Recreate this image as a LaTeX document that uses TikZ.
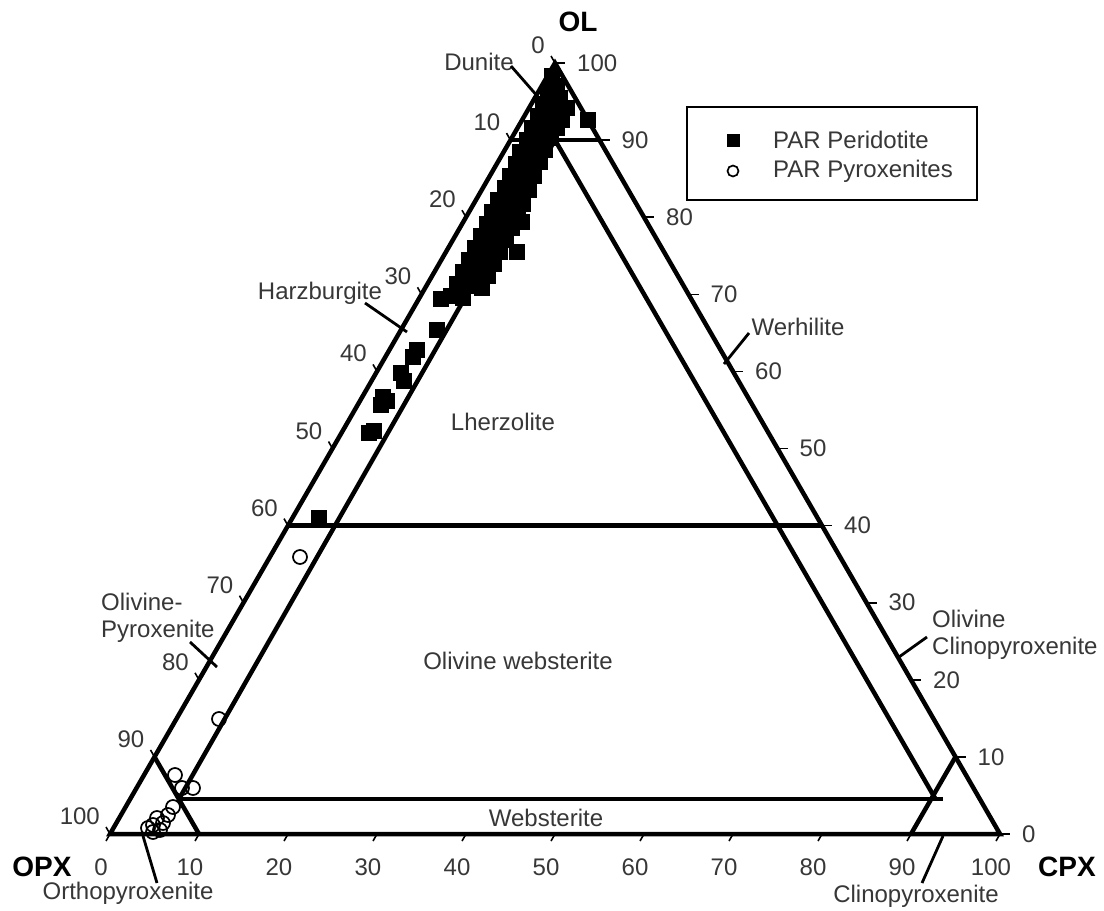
\documentclass[tikz,border=0pt]{standalone}
\usepackage{fontspec}
\setmainfont{Liberation Sans}
\definecolor{txt}{RGB}{55,55,55}
\tikzset{
  edgeline/.style={line width=4.5pt, line join=miter},
  tickline/.style={line width=1.6pt},
  leader/.style={line width=2.8pt},
  lbl/.style={text=txt, font=\fontsize{24}{27}\selectfont, inner sep=0pt},
  axlbl/.style={text=black, font=\fontsize{28}{30}\selectfont\bfseries, inner sep=0pt},
  sq/.style={rectangle, fill=black, minimum size=16pt, inner sep=0pt},
  ci/.style={circle, draw=black, line width=1.7pt, minimum size=14pt, inner sep=0pt},
}
\begin{document}
\begin{tikzpicture}[x=1pt,y=-1pt]
\useasboundingbox[fill=white] (0,0) rectangle (1104,911);
% vertices
\coordinate (OPXv) at (110,834);
\coordinate (CPXv) at (1000,834);
\coordinate (OLv) at (555,63);
\coordinate (T) at (555,140);
\coordinate (d1) at (510.6,140);
\coordinate (d2) at (599.4,140);
\coordinate (p1) at (288,525.6);
\coordinate (p2) at (822,525.6);
\coordinate (w1) at (179,799);
\coordinate (w2) at (943,799);
\coordinate (wi) at (935.5,799);
\coordinate (o1) at (154.5,756.9);
\coordinate (o2) at (199,834);
\coordinate (c1) at (955.5,756.9);
\coordinate (c2) at (911,834);
% field boundaries
\draw[edgeline] (OPXv) -- (CPXv) -- (OLv) -- cycle;
\draw[edgeline] (d1) -- (d2);
\draw[edgeline] (p1) -- (p2);
\draw[edgeline] (T) -- (w1);
\draw[edgeline] (T) -- (wi);
\draw[edgeline] (w1) -- (w2);
\draw[edgeline] (o1) -- (o2);
\draw[edgeline] (c1) -- (c2);
% right axis (OL)
\foreach \v in {0,...,10}{
  \coordinate (r\v) at ({1000-\v*44.5},{834-\v*77.1});
  \coordinate (rt\v) at ({1010-\v*44.5},{834-\v*77.1});
  \draw[tickline] (r\v) -- (rt\v);
  \pgfmathtruncatemacro{\lab}{\v*10}
  \node[lbl, anchor=west] (rl\v) at ({1022-\v*44.5},{834-\v*77.1}) {\lab};
}
% left axis (OPX)
\foreach \v in {0,...,10}{
  \coordinate (l\v) at ({110+(10-\v)*44.5},{834-(10-\v)*77.1});
  \coordinate (lt\v) at ({106+(10-\v)*44.5},{827-(10-\v)*77.1});
  \draw[tickline] (l\v) -- (lt\v);
  \pgfmathtruncatemacro{\lab}{\v*10}
  \node[lbl, anchor=south east] (ll\v) at ({100+(10-\v)*44.5},{825-(10-\v)*77.1}) {\lab};
}
% bottom axis (CPX)
\foreach \v in {0,...,10}{
  \coordinate (b\v) at ({110+\v*89},834);
  \coordinate (bt\v) at ({106+\v*89},841);
  \draw[tickline] (b\v) -- (bt\v);
  \pgfmathtruncatemacro{\lab}{\v*10}
  \node[lbl] (bl\v) at ({101+\v*89},867) {\lab};
}
% apex labels
\node[axlbl] (OL) at (578,22) {OL};
\node[axlbl] (OPX) at (42,867) {OPX};
\node[axlbl] (CPX) at (1067,867) {CPX};
% field names
\node[lbl] (dun) at (479,62) {Dunite};
\node[lbl] (har) at (320,293) {Harzburgite};
\node[lbl] (wer) at (798,327) {Werhilite};
\node[lbl] (lhe) at (503,422) {Lherzolite};
\node[lbl, anchor=west, align=left] (olp) at (101,618) {Olivine-\\Pyroxenite};
\node[lbl] (olw) at (518,661) {Olivine websterite};
\node[lbl, anchor=west, align=left] (olc) at (932,635) {Olivine\\Clinopyroxenite};
\node[lbl] (web) at (546,818) {Websterite};
\node[lbl] (orth) at (128,893) {Orthopyroxenite};
\node[lbl] (clin) at (916,896) {Clinopyroxenite};
% leaders
\coordinate (dunA) at (511,66); \coordinate (dunB) at (539,98);
\draw[leader] (dunA) -- (dunB);
\coordinate (harA) at (365,303); \coordinate (harB) at (407,332);
\draw[leader] (harA) -- (harB);
\coordinate (werA) at (749,333); \coordinate (werB) at (724,364);
\draw[leader] (werA) -- (werB);
\coordinate (olpA) at (190,642); \coordinate (olpB) at (217,667);
\draw[leader] (olpA) -- (olpB);
\coordinate (olcA) at (927,637); \coordinate (olcB) at (899,657);
\draw[leader] (olcA) -- (olcB);
\coordinate (orA) at (143,836); \coordinate (orB) at (157,883);
\draw[leader] (orA) -- (orB);
\coordinate (clA) at (943,836); \coordinate (clB) at (922,883);
\draw[leader] (clA) -- (clB);
% peridotite data (squares)
\foreach \x/\y [count=\i] in {552/76,557/86,548/92,560/98,543/104,554/106,567/108,538/116,550/118,562/120,588/120,532/128,545/130,557/128,527/140,540/142,551/138,
 520/152,533/152,545/150,516/164,528/166,540/162,510/176,522/178,534/176,505/188,517/190,529/190,498/200,511/202,523/204,492/212,505/214,518/216,487/224,499/226,512/228,522/222,
 481/236,494/238,506/240,475/248,488/250,500/252,517/252,469/260,482/262,494/264,463/272,476/274,488/276,457/284,470/286,482/288,451/296,463/298,441/299,
 437/330,417/350,413/357,401/373,404/381,383/397,387/401,381/405,369/433,374/431,319/518}
  \node[sq] (s\i) at (\x,\y) {};
% pyroxenite data (circles)
\foreach \x/\y [count=\i] in {300/557,219/719,175/775,182/788,193/788,173/807,168/815,157/818,163/823,153/825,148/828,160/830,153/832}
  \node[ci] (c\i) at (\x,\y) {};
% legend
\node[draw=black, line width=1.8pt, minimum width=290pt, minimum height=93pt, inner sep=0pt] (leg) at (832,153.5) {};
\node[sq, minimum size=13pt] (lsq) at (733,140) {};
\node[ci, minimum size=11pt] (lci) at (733,171) {};
\node[lbl, anchor=west] (lt1) at (773,140) {PAR Peridotite};
\node[lbl, anchor=west] (lt2) at (773,171) {PAR Pyroxenites};
\end{tikzpicture}
\end{document}
